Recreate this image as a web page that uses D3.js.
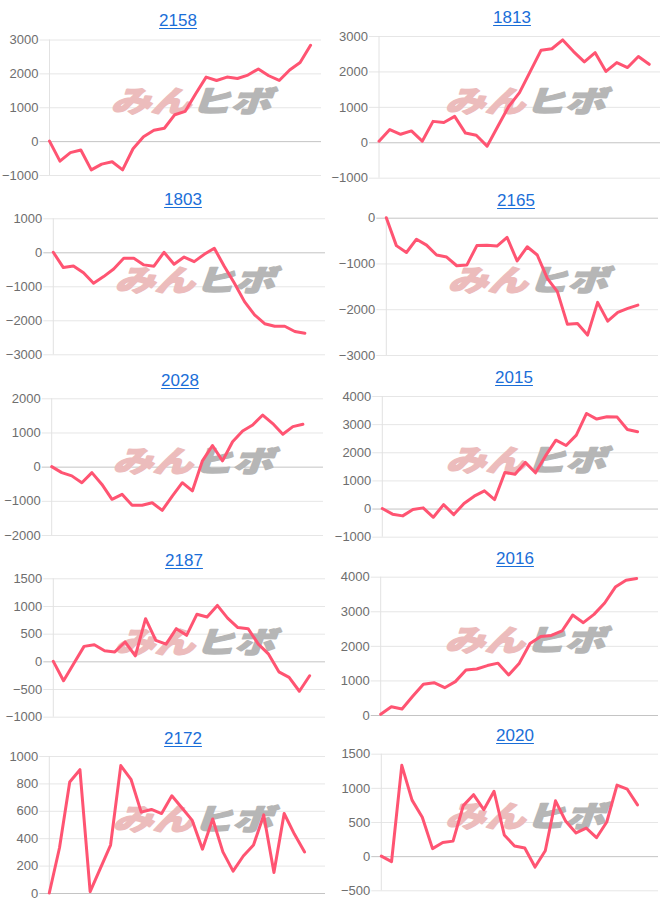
<!DOCTYPE html>
<html><head><meta charset="utf-8">
<script src="https://cdn.jsdelivr.net/npm/d3@7"></script>
<style>body{margin:0;background:#fff}svg{display:block}</style>
</head><body>
<svg id="c" width="666" height="899"></svg>
<script>
// ---- data ----
const codes = ["2158","1813","1803","2165","2028","2015","2187","2016","2172","2020"];
const s2158 = [0,-590,-340,-260,-850,-680,-610,-850,-225,130,320,380,780,880,1400,1890,1790,1890,1850,1950,2130,1930,1790,2100,2320,2830];
const s1813 = [30,360,225,320,30,590,560,730,260,200,-110,450,1010,1400,2000,2600,2640,2890,2560,2270,2530,2000,2250,2110,2420,2200];
const s1803 = [0,-450,-400,-600,-910,-715,-490,-175,-175,-370,-410,0,-350,-140,-275,-60,120,-420,-910,-1450,-1840,-2100,-2175,-2175,-2330,-2380];
const s2165 = [0,-610,-760,-470,-600,-815,-860,-1050,-1035,-610,-600,-620,-430,-945,-635,-815,-1325,-1615,-2330,-2310,-2565,-1850,-2260,-2070,-1980,-1910];
const s2028 = [0,-175,-270,-470,-175,-520,-955,-810,-1130,-1130,-1055,-1280,-860,-470,-710,170,620,170,730,1045,1220,1510,1260,950,1170,1240];
const s2015 = [0,-200,-260,-35,25,-310,140,-215,180,440,630,320,1280,1220,1640,1270,1880,2430,2240,2610,3380,3180,3260,3250,2810,2730];
const s2187 = [0,-350,-40,270,300,190,170,350,100,770,380,310,590,470,850,800,1010,780,610,590,310,130,-190,-290,-540,-260];
const s2016 = [20,240,175,540,890,935,790,965,1300,1330,1430,1500,1160,1500,2070,2270,2300,2430,2890,2670,2910,3240,3700,3900,3950];
const s2172 = [0,330,810,900,10,180,350,930,830,590,610,580,710,620,530,320,540,300,160,270,350,570,150,580,430,300];
const s2020 = [0,-80,1330,820,570,110,200,220,740,900,680,950,310,150,120,-160,80,810,510,340,410,270,500,1040,980,750];
const series = [s2158,s1813,s1803,s2165,s2028,s2015,s2187,s2016,s2172,s2020];

const yTicks = [
  [-1000,0,1000,2000,3000],
  [-1000,0,1000,2000,3000],
  [-3000,-2000,-1000,0,1000],
  [-3000,-2000,-1000,0],
  [-2000,-1000,0,1000,2000],
  [-1000,0,1000,2000,3000,4000],
  [-1000,-500,0,500,1000,1500],
  [0,1000,2000,3000,4000],
  [0,200,400,600,800,1000],
  [-500,0,500,1000,1500]
];
const xSlots = [26,26,27,27,27,27,26.5,26,27,27];

// ---- layout ----
const layout = [
  {l:49.5,r:321,t:39.5,b:175,tx:178,ty:20},
  {l:379,r:660,t:36,b:177.7,tx:512,ty:17},
  {l:53.3,r:325,t:218.3,b:354.3,tx:183,ty:199},
  {l:386.3,r:658,t:217.7,b:355,tx:516,ty:200},
  {l:51.7,r:323,t:398.3,b:535,tx:180,ty:380},
  {l:382.3,r:658,t:396,b:536.7,tx:514,ty:377},
  {l:53.3,r:325,t:578.3,b:716.7,tx:184,ty:560},
  {l:380.7,r:658,t:576.7,b:715,tx:515,ty:558},
  {l:49.3,r:325,t:756,b:893,tx:183,ty:738},
  {l:381.3,r:658,t:753.7,b:890.3,tx:515,ty:735}
];

const svg = d3.select("#c");
const FONT = "'Liberation Sans', Arial, Helvetica, sans-serif";

codes.forEach((code, i) => {
  const L = layout[i];
  const ticks = yTicks[i];
  const g = svg.append("g");
  const y = d3.scaleLinear().domain(d3.extent(ticks)).range([L.b, L.t]);
  const x = d3.scaleLinear().domain([0, xSlots[i]]).range([L.l, L.r]);

  // title (link style)
  const t = g.append("text").attr("x", L.tx).attr("y", L.ty + 6)
    .attr("text-anchor", "middle").attr("font-family", FONT)
    .attr("font-size", 17).attr("fill", "#1a6ed8").text(code);
  const tw = t.node().getComputedTextLength();
  g.append("line").attr("x1", L.tx - tw/2).attr("x2", L.tx + tw/2)
    .attr("y1", L.ty + 8.5).attr("y2", L.ty + 8.5)
    .attr("stroke", "#1a6ed8").attr("stroke-width", 1.2);

  // y axis with grid
  const ax = g.append("g").attr("transform", `translate(${L.l - 10},0)`)
    .call(d3.axisLeft(y).tickValues(ticks).tickFormat(d3.format("d"))
      .tickSizeInner(-(L.r - L.l + 10)).tickSizeOuter(0).tickPadding(1));
  ax.select(".domain").remove();
  ax.selectAll(".tick line").attr("stroke", d => d === 0 ? "#c4c4c4" : "#e6e6e6").attr("stroke-width", 1);
  ax.selectAll(".tick text").attr("font-family", FONT).attr("font-size", 13).attr("fill", "#6e6e6e");

  // vertical axis line
  g.append("line").attr("x1", L.l).attr("x2", L.l).attr("y1", L.t).attr("y2", L.b)
    .attr("stroke", "#e2e2e2");

  // watermark
  const cx = (L.l + L.r)/2 + 10, cy = (L.t + L.b)/2 - 8;
  const wm = g.append("text").attr("font-family", "'Noto Sans CJK JP', sans-serif")
    .attr("font-weight", 900).attr("font-size", 32)
    .attr("text-anchor", "middle").attr("dominant-baseline", "central")
    .attr("stroke-width", 1.6).attr("stroke-linejoin", "round")
    .attr("transform", `translate(${cx},${cy}) skewX(-20) scale(1.25,0.92)`);
  wm.append("tspan").attr("fill", "#ecbcbc").attr("stroke", "#ecbcbc").text("みん");
  wm.append("tspan").attr("fill", "#b6b6b6").attr("stroke", "#b6b6b6").text("ヒボ");

  // line
  const line = d3.line().x((d, j) => x(j)).y(d => y(d));
  g.append("path").datum(series[i]).attr("d", line)
    .attr("fill", "none").attr("stroke", "rgb(255,84,114)")
    .attr("stroke-width", 3).attr("stroke-linejoin", "round").attr("stroke-linecap", "round");
});
</script>
</body></html>
